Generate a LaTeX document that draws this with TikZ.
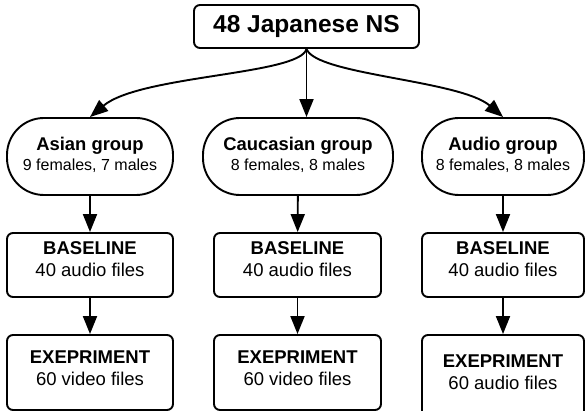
\documentclass[tikz,border=0pt]{standalone}
\usepackage{fontspec}
\setmainfont{Liberation Sans}
\usetikzlibrary{arrows.meta}
\begin{document}
\begin{tikzpicture}[x=1pt,y=-1pt,
  box/.style={draw, line width=1.9pt, rounded corners=6pt, align=center, inner sep=0pt,
    font=\fontsize{18.5}{22}\selectfont},
  grp/.style={draw, line width=1.9pt, rounded corners=37pt, align=center, inner sep=0pt,
    minimum height=77pt, font=\fontsize{16}{20}\selectfont, text depth=6pt},
  basebox/.style={box, minimum height=64pt, text depth=12pt},
  expbox/.style={box, minimum height=75pt, text depth=8pt},
  arr/.style={line width=1.9pt, -{Triangle[length=18pt,width=14pt]}}
]
\useasboundingbox (0,0) rectangle (585,411);
\fill[white] (0,0) rectangle (585,411);

\node[box, minimum width=225pt, minimum height=43pt, font=\bfseries\fontsize{24.5}{28}\selectfont]
  (top) at (306.5,26.5) {48 Japanese NS};

\node[grp, minimum width=166pt] (asian) at (90,156.5)
  {{\bfseries\fontsize{18.4}{20}\selectfont Asian group}\\9 females, 7 males};
\node[grp, minimum width=190pt] (cau) at (298,156.5)
  {{\bfseries\fontsize{18.4}{20}\selectfont Caucasian group}\\8 females, 8 males};
\node[grp, minimum width=162pt] (audio) at (503,156.5)
  {{\bfseries\fontsize{18.4}{20}\selectfont Audio group}\\8 females, 8 males};

\node[basebox, minimum width=166pt] (bl) at (90,265) {{\bfseries BASELINE}\\40 audio files};
\node[basebox, minimum width=167pt] (bm) at (297.5,265) {{\bfseries BASELINE}\\40 audio files};
\node[basebox, minimum width=162pt] (br) at (503,265) {{\bfseries BASELINE}\\40 audio files};

\node[expbox, minimum width=166pt] (el) at (90,372.5) {{\bfseries EXEPRIMENT}\\60 video files};
\node[expbox, minimum width=167pt] (em) at (297.5,372.5) {{\bfseries EXEPRIMENT}\\60 video files};
\node[expbox, minimum width=162pt, minimum height=82pt] (er) at (503,376) {{\bfseries EXEPRIMENT}\\60 audio files};

\draw[arr] (top.south) .. controls (300,75) and (140,75) .. (asian.north);
\draw[arr] (top.south) -- (top.south |- cau.north);
\draw[arr] (top.south) .. controls (316,75) and (460,80) .. (audio.north);

\draw[arr] (asian) -- (bl);
\draw[arr] (cau) -- (bm);
\draw[arr] (audio) -- (br);
\draw[arr] (bl) -- (el);
\draw[arr] (bm) -- (em);
\draw[arr] (br) -- (er);
\end{tikzpicture}
\end{document}
